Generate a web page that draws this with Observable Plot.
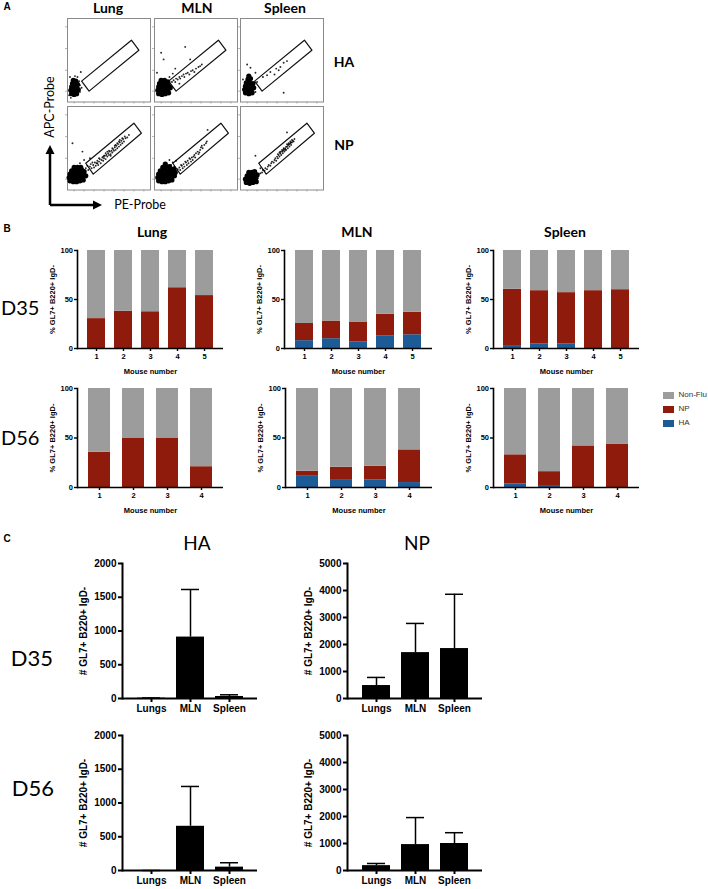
<!DOCTYPE html>
<html><head><meta charset="utf-8">
<script src="https://cdn.jsdelivr.net/npm/d3@7"></script>
<script src="https://cdn.jsdelivr.net/npm/@observablehq/plot@0.6"></script>
<style>
body{margin:0;background:#fff;}
#fig{position:relative;width:708px;height:889px;overflow:hidden;background:#fff;}
.t{position:absolute;white-space:nowrap;line-height:1;}
</style></head><body><div id="fig"></div>
<script>
// ---------- Panel A: flow plots (data units 0-100 on each axis) ----------
const gateRow1 = [[17,25],[26,13],[86,62],[77,74]];
const gateRow2 = [[22,32],[31,19],[89,68],[80,80]];
const flowTicksY = [13,38,64,90];
const flowTicksX = [8,20,32,44,56,68,80,92];

const haLungCore = [[5,10],[8,9],[11,10],[4,14],[7,14],[10,14],[13,15],[5,18],[8,18],[11,18],[6,22],[9,22],[12,21],[7,26],[10,25],[8,12],[6,16],[10,20]];
const haLungDots = [[15,20],[14,25],[3,30],[16,36],[12,30],[2,8],[15,12],[9,31],[4,5],[17,17]];
const haMlnCore = [[5,10],[9,9],[13,10],[17,11],[4,14],[8,14],[12,14],[16,15],[19,17],[5,18],[9,18],[13,18],[17,19],[6,22],[10,22],[14,22],[8,26],[12,26],[16,24]];
const haMlnDots = [[21,24],[23,26],[25,24],[26,28],[28,27],[30,30],[31,28],[33,31],[35,33],[36,30],[38,34],[40,35],[42,33],[44,37],[46,38],[48,36],[50,40],[53,42],[57,45],[37,66],[8,59],[11,51],[43,51],[55,43],[22,34],[18,30],[3,35],[25,40],[30,22]];
const haSpleenCore = [[6,11],[10,10],[14,11],[5,15],[9,15],[13,15],[16,17],[6,19],[10,19],[14,19],[7,23],[11,23],[15,22],[9,27],[12,28],[10,31]];
const haSpleenDots = [[27,30],[32,32],[41,33],[36,36],[43,40],[48,42],[52,47],[56,49],[46,38],[52,11],[8,45],[12,41],[18,35],[20,24],[3,27],[18,12]];
const npLungCore = [[3,11],[7,10],[11,10],[15,11],[19,12],[2,15],[6,15],[10,15],[14,15],[18,16],[22,17],[3,19],[7,19],[11,19],[15,19],[19,20],[5,23],[9,23],[13,23],[17,24],[8,27],[12,27],[16,27],[20,22]];
const npLungDots = [[22,26],[24,29],[25,24],[27,28],[28,31],[29,26],[31,30],[32,27],[33,33],[34,29],[35,32],[36,35],[37,30],[38,34],[39,37],[40,32],[41,36],[42,39],[43,35],[44,38],[45,41],[46,37],[47,42],[48,40],[49,44],[50,42],[51,46],[52,43],[53,47],[54,45],[55,49],[56,47],[57,51],[58,48],[59,53],[60,50],[61,55],[62,52],[63,57],[64,54],[65,59],[66,56],[67,61],[68,58],[70,62],[72,63],[66,62],[60,56],[58,54],[54,50],[63,60],[69,64],[48,46],[44,41],[38,38],[6,56],[18,46],[15,32],[27,38],[20,36],[74,66],[30,33],[36,32],[43,40],[50,47],[57,53],[62,58],[52,41],[46,44]];
const npMlnCore = [[5,11],[9,10],[13,10],[17,11],[21,12],[4,15],[8,15],[12,15],[16,15],[20,16],[24,17],[5,19],[9,19],[13,19],[17,19],[21,20],[25,21],[7,23],[11,23],[15,23],[19,24],[23,25],[10,27],[14,28],[18,28],[13,31]];
const npMlnDots = [[28,25],[30,27],[31,24],[33,29],[34,26],[35,31],[36,28],[38,33],[39,30],[40,35],[41,32],[43,37],[44,34],[45,39],[46,36],[48,42],[49,39],[50,44],[52,46],[53,43],[55,48],[56,51],[58,50],[60,54],[62,56],[63,58],[57,53],[54,45],[47,40],[42,38],[37,34],[32,30],[64,72],[24,28],[22,33],[20,30],[26,35],[18,36]];
const npSpleenCore = [[7,9],[11,8],[15,9],[19,10],[6,13],[10,13],[14,13],[18,14],[8,17],[12,17],[16,17],[20,18],[10,21],[14,21],[17,22]];
const npSpleenDots = [[22,19],[24,20],[26,21],[27,24],[29,23],[30,26],[32,25],[33,28],[34,30],[36,29],[37,32],[38,34],[40,33],[41,36],[42,38],[43,35],[44,40],[45,38],[46,42],[47,40],[48,44],[49,42],[50,46],[51,44],[52,48],[53,46],[54,50],[55,48],[56,52],[57,50],[58,54],[59,52],[60,56],[61,54],[62,57],[63,59],[64,58],[65,61],[50,48],[52,50],[55,52],[58,56],[47,45],[45,43],[60,58],[53,49],[56,55],[62,60],[56,69],[18,41],[24,26],[21,14],[51,47],[54,48],[57,54],[59,55],[48,46],[61,57]];

// ---------- Panel B: % composition per mouse ----------
const legendTypes = ["Non-Flu","NP","HA"];
const mice5 = ["1","2","3","4","5"];
const mice4 = ["1","2","3","4"];
const bTicks = [0,50,100];
const lungD35HA = [0,0,0,0,0],       lungD35NP = [30.5,38,37.5,62,54],   lungD35NF = [69.5,62,62.5,38,46];
const lungD56HA = [0,0,0,0],         lungD56NP = [35.5,49.5,49.5,21],    lungD56NF = [64.5,50.5,50.5,79];
const mlnD35HA = [8,10,6.5,13,14],   mlnD35NP = [17.5,18,20.5,22,23],    mlnD35NF = [74.5,72,73,65,63];
const mlnD56HA = [12,8,7.5,5],       mlnD56NP = [4.5,12.5,14,33],        mlnD56NF = [83.5,79.5,78.5,62];
const splD35HA = [3,4.5,4.5,0,0],    splD35NP = [57.5,54.5,52.5,59,60],  splD35NF = [39.5,41,43,41,40];
const splD56HA = [3.5,2,0,0],        splD56NP = [29.5,14,42,43.5],       splD56NF = [67,84,58,56.5];

// ---------- Panel C: counts (mean and SD) ----------
const tissues = ["Lungs","MLN","Spleen"];
const haTicks = [0,500,1000,1500,2000];
const npTicks = [0,1000,2000,3000,4000,5000];
const haD35Mean = [5,910,30],     haD35Sd = [3,705,25];
const npD35Mean = [480,1700,1850], npD35Sd = [300,1080,2010];
const haD56Mean = [0,655,50],     haD56Sd = [0,590,65];
const npD56Mean = [180,960,1000], npD56Sd = [80,1000,400];

// ---------- drawing ----------
const GRAY = "#9c9c9c", RED = "#8e1b0b", BLUE = "#1d5b96";
const fig = document.getElementById("fig");
const fmt = d3.format("d");
function place(node, left, top){ node.style.position="absolute"; node.style.left=left+"px"; node.style.top=top+"px"; fig.appendChild(node); return node; }
function label(txt, x, y, o = {}) {
  const d = document.createElement("div");
  d.className = "t"; d.textContent = txt;
  d.style.fontFamily = o.family || "Lato, 'Open Sans', sans-serif";
  d.style.fontSize = (o.size || 12) + "px";
  d.style.fontWeight = o.weight || "normal";
  d.style.color = o.color || "#000";
  d.style.left = x + "px"; d.style.top = y + "px";
  const ax = o.anchor === "start" ? "0%" : o.anchor === "end" ? "-100%" : "-50%";
  d.style.transformOrigin = "50% 50%";
  d.style.transform = `translate(${ax},-50%)` + (o.rotate ? ` rotate(${o.rotate}deg)` : "");
  fig.appendChild(d);
}
const XY = {x: d => d[0], y: d => d[1]};

function flowPlot(core, dots, gate, left, top) {
  const m = 4, W = 83, H = 83.5;
  const svg = Plot.plot({
    width: W + 2*m, height: H + 2*m, margin: m,
    x: {domain: [0,100]}, y: {domain: [0,100]},
    style: {background: "transparent", overflow: "visible"},
    marks: [
      Plot.axisY({ticks: flowTicksY, tickSize: 2, tickFormat: () => "", stroke: "#b5b5b5"}),
      Plot.axisX({ticks: flowTicksX, tickSize: 2, tickFormat: () => "", stroke: "#b5b5b5"}),
      Plot.frame({stroke: "#8a8a8a"}),
      Plot.line([...gate, gate[0]], {...XY, stroke: "#111", strokeWidth: 1.2}),
      Plot.dot(core, {...XY, r: 2.6, fill: "#000"}),
      Plot.dot(dots, {...XY, r: 0.95, fill: "#000", fillOpacity: 0.85})
    ]
  });
  place(svg, left - m, top - m);
}
const colL = [67, 153.5, 239.5], rowT = [17.5, 106];
flowPlot(haLungCore, haLungDots, gateRow1, colL[0], rowT[0]);
flowPlot(haMlnCore, haMlnDots, gateRow1, colL[1], rowT[0]);
flowPlot(haSpleenCore, haSpleenDots, gateRow1, colL[2], rowT[0]);
flowPlot(npLungCore, npLungDots, gateRow2, colL[0], rowT[1]);
flowPlot(npMlnCore, npMlnDots, gateRow2, colL[1], rowT[1]);
flowPlot(npSpleenCore, npSpleenDots, gateRow2, colL[2], rowT[1]);

// axis arrows of panel A
const NS = "http://www.w3.org/2000/svg";
const arr = document.createElementNS(NS, "svg");
arr.setAttribute("width", 70); arr.setAttribute("height", 70);
arr.innerHTML = '<path d="M10,64 V12 M10,64 H54" stroke="#000" stroke-width="2.5" fill="none"/>' +
  '<path d="M5.5,13 L10,4 L14.5,13 Z" fill="#000"/><path d="M53,59.5 L62,64 L53,68.5 Z" fill="#000"/>';
place(arr, 40, 141);

function stackPlot(mice, ha, np, nf, axisX, xEnd, y100, y0) {
  const rows = mice.flatMap((m, i) => [
    {mouse: m, type: "HA", value: ha[i]},
    {mouse: m, type: "NP", value: np[i]},
    {mouse: m, type: "Non-Flu", value: nf[i]}
  ]);
  const mL = 36, mR = 6, mT = 8, mB = 30;
  const svg = Plot.plot({
    width: xEnd - axisX + mL + mR, height: y0 - y100 + mT + mB,
    marginLeft: mL, marginRight: mR, marginTop: mT, marginBottom: mB,
    style: {fontFamily: "'Liberation Sans', Arial, sans-serif", fontSize: "7.5px", fontWeight: "bold", color: "#000", background: "transparent", overflow: "visible"},
    x: {domain: mice, paddingInner: 0.35, paddingOuter: 0.32},
    y: {domain: [0,100]},
    color: {domain: legendTypes, range: [GRAY, RED, BLUE]},
    marks: [
      Plot.barY(rows, {x: "mouse", y: "value", fill: "type", order: ["HA","NP","Non-Flu"]}),
      Plot.ruleY([0], {strokeWidth: 1.6}),
      Plot.frame({anchor: "left", strokeWidth: 1.6}),
      Plot.axisY({ticks: bTicks, tickFormat: fmt, tickSize: 3, tickPadding: 1.5, strokeWidth: 1.4, label: "% GL7+ B220+ IgD-", labelAnchor: "center", labelOffset: 28, labelArrow: false}),
      Plot.axisX({tickSize: 3, tickPadding: 2, strokeWidth: 1.4, label: "Mouse number", labelAnchor: "center", labelOffset: 25})
    ]
  });
  place(svg, axisX - mL, y100 - mT);
}
stackPlot(mice5, lungD35HA, lungD35NP, lungD35NF, 77, 223, 250, 348);
stackPlot(mice5, mlnD35HA, mlnD35NP, mlnD35NF, 284, 432, 250, 348);
stackPlot(mice5, splD35HA, splD35NP, splD35NF, 493, 639, 250, 348);
stackPlot(mice4, lungD56HA, lungD56NP, lungD56NF, 77, 223, 388, 487);
stackPlot(mice4, mlnD56HA, mlnD56NP, mlnD56NF, 285, 432, 388, 487);
stackPlot(mice4, splD56HA, splD56NP, splD56NF, 493, 639, 388, 487);

// legend
const legendColors = {"Non-Flu": GRAY, "NP": RED, "HA": BLUE};
legendTypes.forEach((t, i) => {
  const y = 395 + i * 14.2;
  const sw = document.createElement("div");
  sw.style.width = "11px"; sw.style.height = "7px"; sw.style.background = legendColors[t];
  place(sw, 663, y - 3.5);
  label(t, 678.5, y, {family: "'Liberation Sans', Arial, sans-serif", size: 8, color: "#333", anchor: "start"});
});

function countPlot(mean, sd, yMax, ticks, axisX, yTop, y0) {
  const rows = tissues.map((t, i) => ({tissue: t, mean: mean[i], hi: mean[i] + sd[i]}));
  const mL = 50, mR = 6, mT = 8, mB = 22, plotW = 135;
  const svg = Plot.plot({
    width: plotW + mL + mR, height: y0 - yTop + mT + mB,
    marginLeft: mL, marginRight: mR, marginTop: mT, marginBottom: mB,
    style: {fontFamily: "'Liberation Sans', Arial, sans-serif", fontSize: "10px", fontWeight: "bold", color: "#000", background: "transparent", overflow: "visible"},
    x: {domain: tissues, paddingInner: 0.29, paddingOuter: 0.355},
    y: {domain: [0, yMax]},
    marks: [
      Plot.ruleX(rows, {x: "tissue", y1: "mean", y2: "hi", strokeWidth: 1.5}),
      Plot.tickY(rows, {x: "tissue", y: "hi", strokeWidth: 1.5, insetLeft: 5, insetRight: 5}),
      Plot.barY(rows, {x: "tissue", y: "mean", fill: "#000"}),
      Plot.ruleY([0], {strokeWidth: 2}),
      Plot.frame({anchor: "left", strokeWidth: 2}),
      Plot.axisY({ticks, tickFormat: fmt, tickSize: 4, tickPadding: 2, strokeWidth: 2, label: "# GL7+ B220+ IgD-", labelAnchor: "center", labelOffset: 43, labelArrow: false}),
      Plot.axisX({tickSize: 4, tickPadding: 2, strokeWidth: 2, label: null})
    ]
  });
  place(svg, axisX - mL, yTop - mT);
}
countPlot(haD35Mean, haD35Sd, 2000, haTicks, 122, 563, 698);
countPlot(npD35Mean, npD35Sd, 5000, npTicks, 347, 563, 698);
countPlot(haD56Mean, haD56Sd, 2000, haTicks, 122, 735, 870);
countPlot(npD56Mean, npD56Sd, 5000, npTicks, 347, 735, 870);

// ---------- text ----------
const AR = "'Liberation Sans', Arial, sans-serif";
label("A", 7, 7, {family: AR, weight: "bold", size: 10});
label("B", 7, 229, {family: AR, weight: "bold", size: 10});
label("C", 7, 539, {family: AR, weight: "bold", size: 10});
label("Lung", 108, 8, {weight: "bold", size: 14});
label("MLN", 197, 8, {weight: "bold", size: 14});
label("Spleen", 285, 8, {weight: "bold", size: 14});
label("HA", 344, 62, {weight: "bold", size: 14});
label("NP", 344, 145, {weight: "bold", size: 14});
label("APC-Probe", 50, 107, {size: 12.5, rotate: -90});
label("PE-Probe", 140, 205, {size: 12.5});
label("Lung", 152, 232, {weight: "bold", size: 14});
label("MLN", 357, 232, {weight: "bold", size: 14});
label("Spleen", 565, 232, {weight: "bold", size: 14});
label("D35", 1, 307, {size: 20, anchor: "start"});
label("D56", 1, 437, {size: 20, anchor: "start"});
label("HA", 197, 542, {size: 19});
label("NP", 417, 542, {size: 19});
label("D35", 32, 658, {size: 22});
label("D56", 33, 788, {size: 22});
</script></body></html>
